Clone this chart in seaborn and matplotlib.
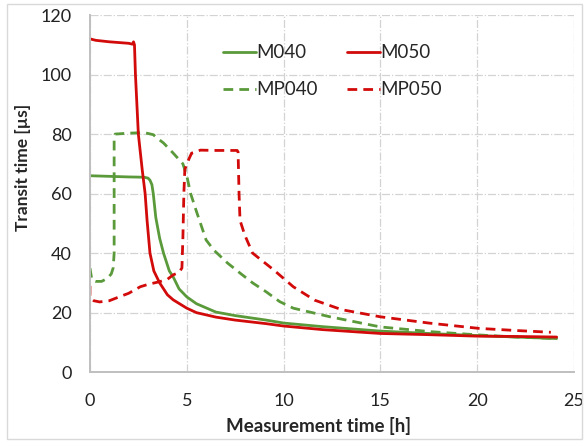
import matplotlib
matplotlib.use('Agg')

import pandas as pd
import seaborn as sns
import matplotlib.pyplot as plt
from matplotlib.patches import Rectangle

# === Data ===
m040_x = [0, 1, 2, 2.8, 3.0, 3.1, 3.2, 3.27, 3.4, 3.6, 3.8, 4.1, 4.3, 4.6, 5.0, 5.5, 6.5, 7.5, 9.1, 10, 12, 15, 17.5, 20, 22, 24.1]
m040_y = [66, 65.8, 65.6, 65.5, 65.2, 64.5, 63, 60, 52, 45, 40, 34, 32, 28, 25.3, 23, 20.2, 19, 17.5, 16.5, 15.3, 13.8, 13, 12.3, 11.8, 11.3]

m050_x = [0, 0.3, 1.0, 2.0, 2.2, 2.25, 2.3, 2.35, 2.5, 2.7, 2.85, 2.95, 3.1, 3.3, 3.6, 4.0, 4.3, 5.0, 5.5, 6.5, 7.5, 9.1, 10, 12, 15, 17.5, 20, 22, 24.1]
m050_y = [112, 111.5, 111, 110.5, 110.2, 111, 110, 100, 80, 68, 60, 51, 40, 34, 30, 26, 24.3, 21.5, 20, 18.5, 17.5, 16.3, 15.5, 14.3, 13, 12.6, 12.1, 12, 11.8]

mp040_x = [0, 0.1, 0.3, 0.6, 0.9, 1.1, 1.2, 1.25, 1.25, 1.3, 2.0, 2.8, 3.27, 3.5, 3.8, 4.3, 4.8, 5.0, 5.2, 5.5, 6.0, 6.4, 7.1, 7.75, 8.4, 9.1, 9.8, 10.5, 12.4, 15, 17.6, 20.1, 22, 24.1]
mp040_y = [35, 31, 30.5, 30.5, 31.5, 33, 35, 40, 78, 80, 80.3, 80.5, 79.8, 78.5, 77, 73.6, 70, 66, 60, 54, 44.4, 41, 36.7, 33.3, 30, 27, 23.7, 21.5, 18.6, 15.2, 13.6, 12.5, 11.8, 11.3]

mp050_x = [0, 0, 0.2, 0.5, 1.0, 1.55, 2.0, 2.6, 3.0, 3.6, 4.0, 4.3, 4.6, 4.75, 4.8, 4.85, 4.9, 5.0, 5.25, 5.5, 5.7, 6.5, 7.0, 7.6, 7.65, 7.7, 7.75, 8.0, 8.4, 9.5, 10.5, 11.6, 13, 15, 17.5, 20.1, 22, 23.8]
mp050_y = [29, 25, 24, 23.6, 24, 25.4, 26.5, 28.7, 29.5, 30.4, 31.2, 32.7, 33.5, 35, 45, 60, 68, 70, 73.6, 74, 74.6, 74.5, 74.5, 74.5, 74, 60, 51, 46, 40, 34.3, 28.7, 24.2, 21, 18.6, 16.5, 14.7, 14, 13.4]

x_ticks = [0, 5, 10, 15, 20, 25]
y_ticks = [0, 20, 40, 60, 80, 100, 120]

GREEN = '#5A9A3B'
RED = '#D20A0A'

series = [
    ("M040", m040_x, m040_y, GREEN, '-'),
    ("MP040", mp040_x, mp040_y, GREEN, '--'),
    ("M050", m050_x, m050_y, RED, '-'),
    ("MP050", mp050_x, mp050_y, RED, '--'),
]

# === Style ===
sns.set_style("white")
plt.rcParams['font.family'] = ['Lato', 'DejaVu Sans']

fig = plt.figure(figsize=(5.84, 4.42), dpi=100)
ax = fig.add_axes([0.154, 0.158, 0.829, 0.808])

for name, xs, ys, color, ls in series:
    df = pd.DataFrame({"x": xs, "y": ys})
    line_kw = dict(dashes=(3.5, 2.2)) if ls == '--' else {}
    sns.lineplot(data=df, x="x", y="y", ax=ax, color=color, linewidth=2.0,
                 estimator=None, sort=False, label=name, **line_kw)

# === Axes ===
ax.set_xlim(0, 25)
ax.set_ylim(0, 120)
ax.set_xticks(x_ticks)
ax.set_yticks(y_ticks)
ax.tick_params(axis='both', length=0, labelsize=13, colors='#222222', pad=13)
ax.tick_params(axis='x', pad=15)
ax.grid(True, color='#D3D3D3', linestyle='-.', linewidth=0.9)
ax.set_axisbelow(True)
for side in ['top', 'right']:
    ax.spines[side].set_visible(False)
for side in ['left', 'bottom']:
    ax.spines[side].set_color('#BFBFBF')
    ax.spines[side].set_linewidth(1.4)

ax.set_xlabel("Measurement time [h]", fontsize=13.5, fontweight='bold')
ax.set_ylabel("Transit time [µs]", fontsize=12.5, fontweight='bold')
ax.xaxis.set_label_coords(0.473, -0.125)
ax.yaxis.set_label_coords(-0.122, 0.574)

ax.legend(ncol=2, frameon=False, fontsize=13.5, handlelength=1.75, handletextpad=0.0,
          columnspacing=1.6, labelspacing=1.05, loc='upper left',
          bbox_to_anchor=(0.24, 0.965))

# chart area border
fig.patches.append(Rectangle((0.012, 0.007), 0.984, 0.985, transform=fig.transFigure,
                             fill=False, edgecolor='#D9D9D9', linewidth=1))

plt.savefig("out.png", dpi=100)
plt.close()
